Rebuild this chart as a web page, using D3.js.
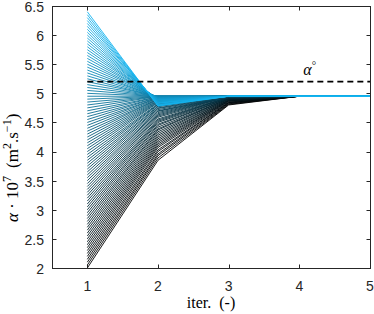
<!DOCTYPE html>
<html>
<head>
<meta charset="utf-8">
<script src="https://cdn.jsdelivr.net/npm/d3@7"></script>
<style>
body { margin: 0; background: #fff; }
.tick-label { font-family: "Liberation Sans", Arial, sans-serif; font-size: 14px; fill: #262626; }
.serif { font-family: "Liberation Serif", "DejaVu Serif", serif; fill: #000; }
</style>
</head>
<body>
<script>
var width = 374;
var height = 314;
var margin = { top: 6, right: 4, bottom: 46, left: 52 };
var w = width - margin.left - margin.right;
var h = height - margin.top - margin.bottom;

var iterations = [1, 2, 3, 4, 5];
var xTicks = [1, 2, 3, 4, 5];
var yTicks = [2, 2.5, 3, 3.5, 4, 4.5, 5, 5.5, 6, 6.5];
var alphaRef = 5.2;

// alpha value of each run at every iteration (one entry per run)
var alphaIter1 = [2.00, 2.05, 2.10, 2.15, 2.20, 2.25, 2.30, 2.35, 2.40, 2.45,
    2.50, 2.55, 2.60, 2.65, 2.70, 2.75, 2.80, 2.85, 2.90, 2.95,
    3.00, 3.05, 3.10, 3.15, 3.20, 3.25, 3.30, 3.35, 3.40, 3.45,
    3.50, 3.55, 3.60, 3.65, 3.70, 3.75, 3.80, 3.85, 3.90, 3.95,
    4.00, 4.05, 4.10, 4.15, 4.20, 4.25, 4.30, 4.35, 4.40, 4.45,
    4.50, 4.55, 4.60, 4.65, 4.70, 4.75, 4.80, 4.85, 4.90, 4.95,
    5.00, 5.05, 5.10, 5.15, 5.20, 5.25, 5.30, 5.35, 5.40, 5.45,
    5.50, 5.55, 5.60, 5.65, 5.70, 5.75, 5.80, 5.85, 5.90, 5.95,
    6.00, 6.05, 6.10, 6.15, 6.20, 6.25, 6.30, 6.35, 6.40];

var alphaIter2 = [3.85, 3.89, 3.93, 3.96, 4.00, 4.03, 4.07, 4.10, 4.13, 4.16,
    4.19, 4.22, 4.25, 4.28, 4.31, 4.34, 4.37, 4.39, 4.42, 4.45,
    4.47, 4.50, 4.52, 4.54, 4.56, 4.59, 4.61, 4.63, 4.65, 4.67,
    4.69, 4.70, 4.72, 4.74, 4.75, 4.77, 4.78, 4.80, 4.81, 4.82,
    4.84, 4.85, 4.86, 4.87, 4.88, 4.89, 4.90, 4.90, 4.91, 4.92,
    4.92, 4.93, 4.93, 4.94, 4.94, 4.95, 4.95, 4.95, 4.95, 4.95,
    4.95, 4.95, 4.95, 4.95, 4.95, 4.94, 4.94, 4.94, 4.93, 4.93,
    4.93, 4.92, 4.92, 4.91, 4.91, 4.90, 4.89, 4.89, 4.88, 4.87,
    4.86, 4.85, 4.84, 4.83, 4.83, 4.81, 4.80, 4.79, 4.78];

var alphaIter3 = [4.80, 4.81, 4.82, 4.83, 4.84, 4.84, 4.85, 4.86, 4.87, 4.87,
    4.88, 4.88, 4.89, 4.89, 4.90, 4.90, 4.91, 4.91, 4.91, 4.92,
    4.92, 4.92, 4.93, 4.93, 4.93, 4.93, 4.94, 4.94, 4.94, 4.94,
    4.94, 4.94, 4.94, 4.94, 4.95, 4.95, 4.95, 4.95, 4.95, 4.95,
    4.95, 4.95, 4.95, 4.95, 4.95, 4.95, 4.95, 4.95, 4.95, 4.95,
    4.95, 4.95, 4.95, 4.95, 4.95, 4.95, 4.95, 4.95, 4.95, 4.95,
    4.95, 4.95, 4.95, 4.95, 4.95, 4.95, 4.95, 4.95, 4.95, 4.95,
    4.95, 4.95, 4.95, 4.95, 4.95, 4.95, 4.95, 4.95, 4.95, 4.95,
    4.95, 4.95, 4.95, 4.95, 4.95, 4.95, 4.95, 4.95, 4.95];

var alphaIter4 = [4.95, 4.95, 4.95, 4.95, 4.95, 4.95, 4.95, 4.95, 4.95, 4.95,
    4.95, 4.95, 4.95, 4.95, 4.95, 4.95, 4.95, 4.95, 4.95, 4.95,
    4.95, 4.95, 4.95, 4.95, 4.95, 4.95, 4.95, 4.95, 4.95, 4.95,
    4.95, 4.95, 4.95, 4.95, 4.95, 4.95, 4.95, 4.95, 4.95, 4.95,
    4.95, 4.95, 4.95, 4.95, 4.95, 4.95, 4.95, 4.95, 4.95, 4.95,
    4.95, 4.95, 4.95, 4.95, 4.95, 4.95, 4.95, 4.95, 4.95, 4.95,
    4.95, 4.95, 4.95, 4.95, 4.95, 4.95, 4.95, 4.95, 4.95, 4.95,
    4.95, 4.95, 4.95, 4.95, 4.95, 4.95, 4.95, 4.95, 4.95, 4.95,
    4.95, 4.95, 4.95, 4.95, 4.95, 4.95, 4.95, 4.95, 4.95];

var alphaIter5 = [4.95, 4.95, 4.95, 4.95, 4.95, 4.95, 4.95, 4.95, 4.95, 4.95,
    4.95, 4.95, 4.95, 4.95, 4.95, 4.95, 4.95, 4.95, 4.95, 4.95,
    4.95, 4.95, 4.95, 4.95, 4.95, 4.95, 4.95, 4.95, 4.95, 4.95,
    4.95, 4.95, 4.95, 4.95, 4.95, 4.95, 4.95, 4.95, 4.95, 4.95,
    4.95, 4.95, 4.95, 4.95, 4.95, 4.95, 4.95, 4.95, 4.95, 4.95,
    4.95, 4.95, 4.95, 4.95, 4.95, 4.95, 4.95, 4.95, 4.95, 4.95,
    4.95, 4.95, 4.95, 4.95, 4.95, 4.95, 4.95, 4.95, 4.95, 4.95,
    4.95, 4.95, 4.95, 4.95, 4.95, 4.95, 4.95, 4.95, 4.95, 4.95,
    4.95, 4.95, 4.95, 4.95, 4.95, 4.95, 4.95, 4.95, 4.95];

var runs = alphaIter1.map(function (d, i) {
    var vals = [alphaIter1[i], alphaIter2[i], alphaIter3[i], alphaIter4[i], alphaIter5[i]];
    return iterations.map(function (it, j) { return { iter: it, alpha: vals[j] }; });
});

var svg = d3.select("body").append("svg")
    .attr("width", width)
    .attr("height", height);

var chart = svg.append("g")
    .attr("transform", "translate(" + margin.left + "," + margin.top + ")");

var x = d3.scaleLinear()
    .domain([0.5, 5])
    .range([0, w]);

var y = d3.scaleLinear()
    .domain([2, 6.5])
    .range([h, 0]);

var col = d3.scaleLinear()
    .domain([0, runs.length - 1])
    .range(["#000000", "#14b4f0"])
    .interpolate(d3.interpolateRgb);

var line = d3.line()
    .x(function (d) { return x(d.iter); })
    .y(function (d) { return y(d.alpha); });

// runs, dark first so the cyan ones end up on top
chart.selectAll(".run")
    .data(runs)
    .enter().append("path")
    .attr("class", "run")
    .attr("d", line)
    .attr("fill", "none")
    .attr("stroke", function (d, i) { return col(i); })
    .attr("stroke-width", 0.9);

// reference value
chart.append("line")
    .attr("x1", x(1))
    .attr("x2", x(5))
    .attr("y1", y(alphaRef))
    .attr("y2", y(alphaRef))
    .attr("stroke", "#000")
    .attr("stroke-width", 1.8)
    .attr("stroke-dasharray", "6,4");

var refLabel = chart.append("text")
    .attr("class", "serif")
    .attr("x", x(4) + 4)
    .attr("y", y(alphaRef) - 7)
    .style("font-size", "16px");
refLabel.append("tspan").style("font-style", "italic").text("α");
refLabel.append("tspan").attr("dy", -6).style("font-size", "11px").text("°");

// axes, box style with inward ticks on all sides
var tickLen = 4;
var axisCol = "#262626";

chart.append("rect")
    .attr("x", 0.5)
    .attr("y", 0.5)
    .attr("width", w)
    .attr("height", h)
    .attr("fill", "none")
    .attr("stroke", axisCol)
    .attr("stroke-width", 1);

xTicks.forEach(function (t) {
    var px = Math.round(x(t)) + 0.5;
    chart.append("line").attr("x1", px).attr("x2", px).attr("y1", h + 0.5).attr("y2", h + 0.5 - tickLen).attr("stroke", axisCol);
    chart.append("line").attr("x1", px).attr("x2", px).attr("y1", 0.5).attr("y2", 0.5 + tickLen).attr("stroke", axisCol);
    chart.append("text")
        .attr("class", "tick-label")
        .attr("x", x(t))
        .attr("y", h + 23)
        .style("text-anchor", "middle")
        .text(t);
});

yTicks.forEach(function (t) {
    var py = Math.round(y(t)) + 0.5;
    chart.append("line").attr("x1", 0.5).attr("x2", 0.5 + tickLen).attr("y1", py).attr("y2", py).attr("stroke", axisCol);
    chart.append("line").attr("x1", w + 0.5).attr("x2", w + 0.5 - tickLen).attr("y1", py).attr("y2", py).attr("stroke", axisCol);
    chart.append("text")
        .attr("class", "tick-label")
        .attr("x", -8)
        .attr("y", y(t))
        .attr("dy", "0.42em")
        .style("text-anchor", "end")
        .text(t);
});

chart.append("text")
    .attr("class", "serif")
    .attr("x", w / 2)
    .attr("y", h + 40)
    .style("text-anchor", "middle")
    .style("font-size", "16px")
    .style("word-spacing", "4px")
    .text("iter. (-)");

// rotated y label, starts near the bottom and runs upward
var yLabel = chart.append("text")
    .attr("class", "serif")
    .attr("transform", "translate(-34," + (h - 46) + ") rotate(-90)")
    .style("text-anchor", "start")
    .style("font-size", "17px");
yLabel.append("tspan").style("font-style", "italic").text("α");
yLabel.append("tspan").text(" · 10");
yLabel.append("tspan").attr("dy", -7).style("font-size", "12px").text("7");
yLabel.append("tspan").attr("dy", 7).attr("dx", 8).text("(m");
yLabel.append("tspan").attr("dy", -7).style("font-size", "12px").text("2");
yLabel.append("tspan").attr("dy", 7).text(".s");
yLabel.append("tspan").attr("dy", -7).style("font-size", "12px").text("−1");
yLabel.append("tspan").attr("dy", 7).text(")");
</script>
</body>
</html>
